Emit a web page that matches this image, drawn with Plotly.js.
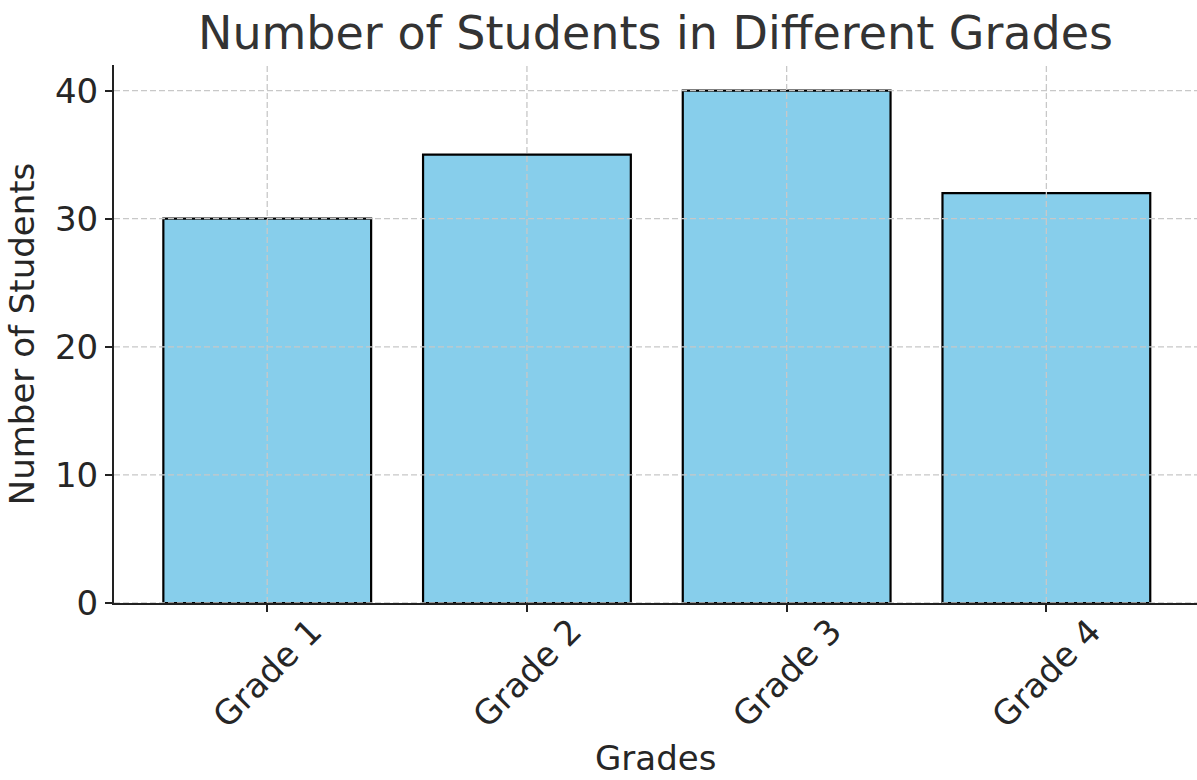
<!DOCTYPE html>
<html>
<head>
<meta charset="utf-8">
<script src="https://cdn.plot.ly/plotly-3.0.1.min.js"></script>
<style>html,body{margin:0;padding:0;background:#fff;}#chart{width:1197px;height:780px;}</style>
</head>
<body>
<div id="chart"></div>
<script>
const categories = ["Grade 1", "Grade 2", "Grade 3", "Grade 4"];
const students = [30, 35, 40, 32];
const yTickValues = [0, 10, 20, 30, 40];
const yTickLabels = ["0", "10", "20", "30", "40"];

const font = "DejaVu Sans, sans-serif";
const gridStyle = {color: "#c8c8c8", width: 1.3, dash: "6px,3px"};

const shapes = [];
yTickValues.forEach(v => shapes.push({
  type: "line", xref: "paper", yref: "y", x0: 0, x1: 1, y0: v, y1: v,
  line: gridStyle, layer: "above"
}));
categories.forEach(c => shapes.push({
  type: "line", xref: "x", yref: "paper", x0: c, x1: c, y0: 0, y1: 1,
  line: gridStyle, layer: "above"
}));

const annotations = categories.map(c => ({
  text: c, x: c, xref: "x", y: 0, yref: "paper",
  xanchor: "center", yanchor: "middle", yshift: -70,
  textangle: -45, showarrow: false,
  font: {family: font, size: 34, color: "#262626"}
}));
annotations.push({
  text: "Grades", x: 0.5, xref: "paper", y: 0, yref: "paper",
  xanchor: "center", yanchor: "middle", yshift: -155, showarrow: false,
  borderpad: 0,
  font: {family: font, size: 34, color: "#262626"}
});

Plotly.newPlot("chart", [{
  type: "bar",
  x: categories,
  y: students,
  width: 0.8,
  marker: {color: "#87CEEB", line: {color: "#000", width: 2.2}},
  hoverinfo: "x+y"
}], {
  width: 1197, height: 780,
  margin: {l: 114, r: 0, t: 65, b: 177},
  paper_bgcolor: "#fff", plot_bgcolor: "#fff",
  font: {family: font, color: "#262626"},
  title: {
    text: "Number of Students in Different Grades",
    font: {family: font, size: 46, color: "#333"},
    x: 0.5, xref: "paper", xanchor: "center",
    y: 1 - 33/780, yref: "container", yanchor: "middle"
  },
  xaxis: {
    type: "category",
    range: [-0.59, 3.58],
    showgrid: false, zeroline: false,
    showline: true, linecolor: "#222", linewidth: 2,
    ticks: "outside", ticklen: 7, tickwidth: 1.8, tickcolor: "#222",
    showticklabels: false
  },
  yaxis: {
    range: [0, 42],
    tickvals: yTickValues, ticktext: yTickLabels,
    showgrid: false, zeroline: false,
    showline: true, linecolor: "#222", linewidth: 2,
    ticks: "outside", ticklen: 7, tickwidth: 1.8, tickcolor: "#222",
    tickfont: {family: font, size: 34, color: "#262626"},
    title: {text: "Number of Students", standoff: 10, font: {family: font, size: 34, color: "#262626"}}
  },
  shapes: shapes,
  annotations: annotations,
  showlegend: false
}, {displayModeBar: false});
</script>
</body>
</html>
